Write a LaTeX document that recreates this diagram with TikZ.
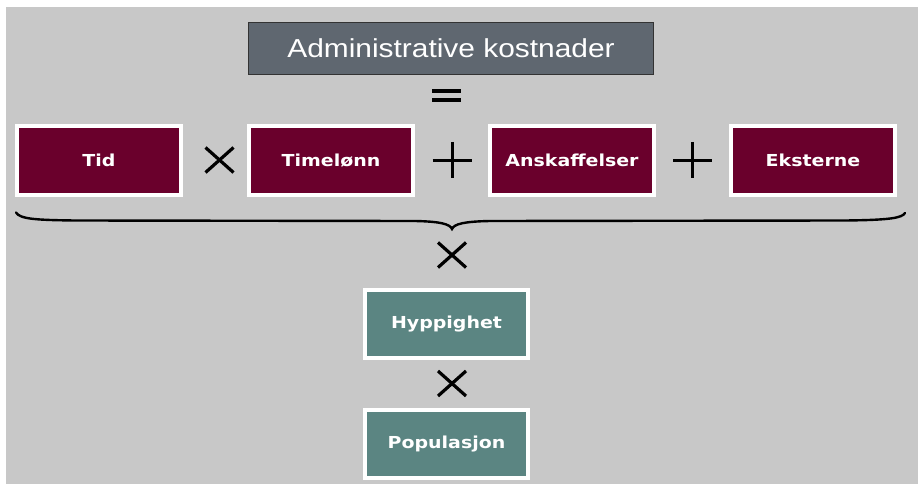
\documentclass[tikz,border=0pt]{standalone}
\usepackage{fontspec}
\usepackage{graphicx}
\usetikzlibrary{calc}
\setmainfont{Liberation Sans}
\newfontfamily\boxfont{DejaVu Sans}
\definecolor{bggray}{HTML}{C8C8C8}
\definecolor{wine}{HTML}{6A002C}
\definecolor{teal}{HTML}{5B8582}
\definecolor{slate}{HTML}{5F6770}
\tikzset{
  redbox/.style={draw=white, line width=4pt, fill=wine, minimum width=164pt, minimum height=69pt, inner sep=0pt, outer sep=0pt,
    text=white, font=\boxfont\bfseries\fontsize{16.5}{18}\selectfont},
  tealbox/.style={redbox, fill=teal, minimum width=163pt, minimum height=68pt},
  topbox/.style={draw=black!80, line width=1pt, fill=slate, minimum width=405pt, minimum height=52pt, inner sep=0pt,
    text=white, font=\fontsize{26}{30}\selectfont},
  opline/.style={line width=3.2pt, black},
}
\newcommand{\sx}[1]{\scalebox{1.15}[1]{#1}}
\begin{document}
\begin{tikzpicture}[x=1pt,y=-1pt]
\useasboundingbox (0,0) rectangle (918,484);
\fill[bggray] (6,7) rectangle (918,484);

\node[topbox] (admin) at (451,48.5) {\sx{Administrative kostnader}};

% equals sign
\fill[black] (432,89) rectangle (461,93.5);
\fill[black] (432,98) rectangle (461,102.5);

\node[redbox] (tid) at (99,160.5) {\sx{Tid}};
\node[redbox] (time) at (331,160.5) {\sx{Timelønn}};
\node[redbox] (ansk) at (572,160.5) {\sx{Anskaffelser}};
\node[redbox] (ekst) at (813,160.5) {\sx{Eksterne}};

% times between Tid and Timelonn
\coordinate (m1) at (219.5,160);
\draw[opline] ($(m1)+(-14,-12.5)$) -- ($(m1)+(14,12.5)$);
\draw[opline] ($(m1)+(-14,12.5)$) -- ($(m1)+(14,-12.5)$);
% plus signs
\coordinate (p1) at (452,160);
\draw[opline,line width=3pt] ($(p1)+(-19.5,0)$) -- ($(p1)+(19.5,0)$);
\draw[opline,line width=3pt] ($(p1)+(0,-18)$) -- ($(p1)+(0,18)$);
\coordinate (p2) at (692.5,160);
\draw[opline,line width=3pt] ($(p2)+(-19.5,0)$) -- ($(p2)+(19.5,0)$);
\draw[opline,line width=3pt] ($(p2)+(0,-18)$) -- ($(p2)+(0,18)$);

% brace
\coordinate (bl) at (16,212.5);
\coordinate (btip) at (452,229);
\coordinate (br) at (905,213);
\draw[line width=2.4pt, line cap=round] (bl) .. controls (20,219) and (35,220) .. (75,220.5) -- (415,221)
  .. controls (440,221.5) and (450,224) .. (btip)
  .. controls (454,224) and (464,221.5) .. (490,221) -- (845,220.5)
  .. controls (890,220) and (902,218) .. (br);

% times below brace
\coordinate (m2) at (452,255);
\draw[opline] ($(m2)+(-14,-12.5)$) -- ($(m2)+(14,12.5)$);
\draw[opline] ($(m2)+(-14,12.5)$) -- ($(m2)+(14,-12.5)$);

\node[tealbox] (hyp) at (446.5,324) {\sx{Hyppighet}};

\coordinate (m3) at (452,383.5);
\draw[opline] ($(m3)+(-14,-12.5)$) -- ($(m3)+(14,12.5)$);
\draw[opline] ($(m3)+(-14,12.5)$) -- ($(m3)+(14,-12.5)$);

\node[tealbox] (pop) at (446.5,444) {\sx{Populasjon}};
\end{tikzpicture}
\end{document}
